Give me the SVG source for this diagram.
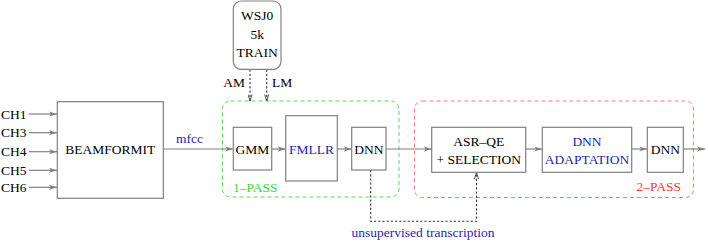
<svg xmlns="http://www.w3.org/2000/svg" width="708" height="243" viewBox="0 0 708 243">
<defs>
<style>
text{font-family:"Liberation Serif","Times New Roman",serif;font-size:13.5px;fill:#000}
.c{text-anchor:middle}
.blue{fill:#2626b0}
.box{fill:#fff;stroke:#808080;stroke-width:1.2}
.ln{stroke:#808080;stroke-width:1.2;fill:none}
.dl{stroke:#333;stroke-width:1.1;fill:none;stroke-dasharray:2.2,2}
</style>
<marker id="ah" viewBox="0 0 8 6" refX="8" refY="3" markerWidth="8" markerHeight="6" markerUnits="userSpaceOnUse" orient="auto">
<path d="M0,0.5 L8,3 L0,5.5 L2,3 Z" fill="#808080"/>
</marker>
<marker id="dh" viewBox="0 0 8 6" refX="8" refY="3" markerWidth="7" markerHeight="5" markerUnits="userSpaceOnUse" orient="auto">
<path d="M0,0.5 L8,3 L0,5.5" fill="none" stroke="#333" stroke-width="1"/>
</marker>
</defs>
<rect width="708" height="243" fill="#fff"/>

<g id="pass1">
<rect x="222.5" y="101" width="176.5" height="96" rx="8" fill="none" stroke="#55dd55" stroke-width="1" stroke-dasharray="4,3"/>
<text x="233" y="191.5" fill="#33dd33" style="fill:#33dd33">1–PASS</text>
</g>
<g id="pass2">
<rect x="414.5" y="101" width="279" height="96.5" rx="8" fill="none" stroke="#ff7777" stroke-width="1" stroke-dasharray="4,3"/>
<text x="681" y="190.5" text-anchor="end" style="fill:#ff3333">2–PASS</text>
</g>

<g id="connectors">
<line class="ln" x1="29" y1="114" x2="57" y2="114" marker-end="url(#ah)"/>
<line class="ln" x1="29" y1="132.7" x2="57" y2="132.7" marker-end="url(#ah)"/>
<line class="ln" x1="29" y1="151.7" x2="57" y2="151.7" marker-end="url(#ah)"/>
<line class="ln" x1="29" y1="170.3" x2="57" y2="170.3" marker-end="url(#ah)"/>
<line class="ln" x1="29" y1="187.3" x2="57" y2="187.3" marker-end="url(#ah)"/>
<line class="ln" x1="163.5" y1="149" x2="233.3" y2="149" marker-end="url(#ah)"/>
<line class="ln" x1="271.7" y1="149" x2="285.7" y2="149" marker-end="url(#ah)"/>
<line class="ln" x1="337.3" y1="149" x2="351.7" y2="149" marker-end="url(#ah)"/>
<line class="ln" x1="386" y1="149" x2="431.7" y2="149" marker-end="url(#ah)"/>
<line class="ln" x1="525.7" y1="149" x2="542.3" y2="149" marker-end="url(#ah)"/>
<line class="ln" x1="631.7" y1="149" x2="647.3" y2="149" marker-end="url(#ah)"/>
<line class="ln" x1="683.3" y1="149" x2="705" y2="149" marker-end="url(#ah)"/>
<line class="dl" x1="250" y1="69.5" x2="250" y2="101" marker-end="url(#dh)"/>
<line class="dl" x1="266.7" y1="69.5" x2="266.7" y2="101" marker-end="url(#dh)"/>
<polyline class="dl" points="370.7,170 370.7,221.3 476.5,221.3 476.5,172.5" marker-end="url(#dh)"/>
<text x="245" y="87" text-anchor="end">AM</text>
<text x="272" y="87">LM</text>
<text x="176" y="142.5" class="blue">mfcc</text>
<text x="423" y="237" class="c blue">unsupervised transcription</text>
</g>

<g id="wsj0">
<rect x="233.3" y="1" width="47.7" height="68.3" rx="8" class="box"/>
<text x="257.2" y="20" class="c">WSJ0</text>
<text x="257.2" y="38.5" class="c">5k</text>
<text x="257.2" y="57" class="c">TRAIN</text>
</g>

<g id="ch-labels">
<text x="1" y="118.5">CH1</text>
<text x="1" y="137.2">CH3</text>
<text x="1" y="156.2">CH4</text>
<text x="1" y="174.8">CH5</text>
<text x="1" y="191.8">CH6</text>
</g>

<g id="beamformit">
<rect x="57.3" y="101.7" width="106" height="96.6" class="box"/>
<text x="110.3" y="154" class="c">BEAMFORMIT</text>
</g>

<g id="gmm">
<rect x="233.3" y="127.3" width="38.4" height="42.7" class="box"/>
<text x="252.5" y="153.5" class="c">GMM</text>
</g>

<g id="fmllr">
<rect x="285.7" y="115.7" width="51.6" height="65.3" class="box"/>
<text x="311.5" y="153.5" class="c blue">FMLLR</text>
</g>

<g id="dnn1">
<rect x="351.7" y="127.3" width="34.3" height="42.7" class="box"/>
<text x="368.9" y="153.5" class="c">DNN</text>
</g>

<g id="asrqe">
<rect x="431.7" y="127.3" width="94" height="45" class="box"/>
<text x="478.7" y="146" class="c">ASR–QE</text>
<text x="478.7" y="164" class="c">+ SELECTION</text>
</g>

<g id="dnnadapt">
<rect x="542.3" y="127.3" width="89.4" height="45" class="box"/>
<text x="587" y="146" class="c blue">DNN</text>
<text x="587" y="164" class="c blue">ADAPTATION</text>
</g>

<g id="dnn2">
<rect x="647.3" y="127.3" width="36" height="45" class="box"/>
<text x="665.3" y="154" class="c">DNN</text>
</g>
</svg>
